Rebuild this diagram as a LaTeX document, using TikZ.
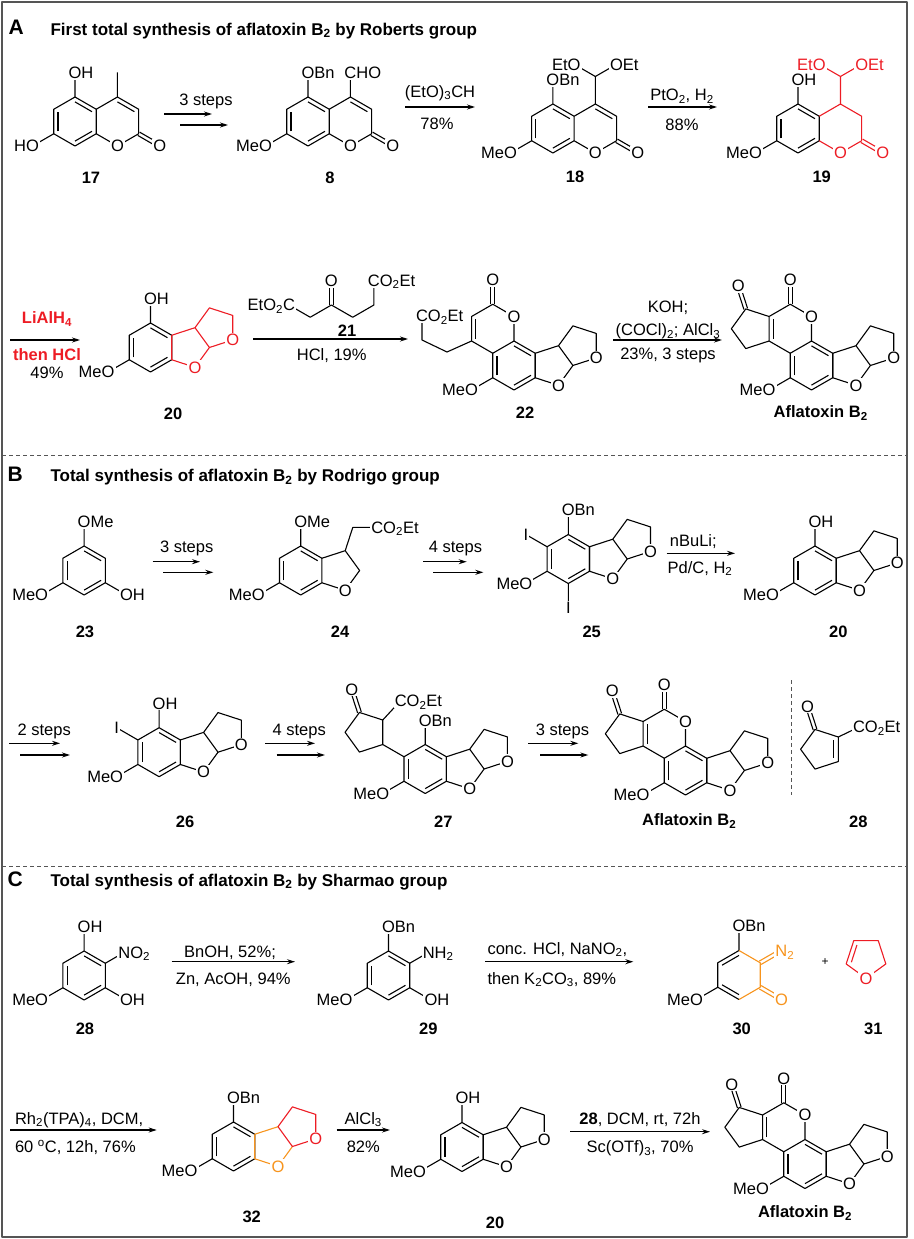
\documentclass[tikz,border=0pt]{standalone}
\usepackage{fontspec}
\setmainfont{Liberation Sans}
\usetikzlibrary{arrows,arrows.meta,positioning,calc}

\definecolor{chemred}{RGB}{237,28,36}
\definecolor{chemorange}{RGB}{247,148,29}
\definecolor{framegray}{RGB}{85,85,85}

\newcommand{\afont}{\fontsize{16.5}{19}\selectfont}
\newcommand{\tfont}{\fontsize{17}{20}\selectfont\bfseries}
\newcommand{\pfont}{\fontsize{21}{24}\selectfont\bfseries}

% ring corners, pointy top, bond 24.5
\newcommand{\hexpts}[3]{%
	\coordinate (#1c) at (#2,#3);
	\coordinate (#1v1) at ($(#1c)+(0,-24.5)$);
	\coordinate (#1v2) at ($(#1c)+(21.22,-12.25)$);
	\coordinate (#1v3) at ($(#1c)+(21.22,12.25)$);
	\coordinate (#1v4) at ($(#1c)+(0,24.5)$);
	\coordinate (#1v5) at ($(#1c)+(-21.22,12.25)$);
	\coordinate (#1v6) at ($(#1c)+(-21.22,-12.25)$);
}
% inner line of a ring double bond
\newcommand{\dbin}[4][]{\draw[#1] ($(#2)!0.2!(#4)$)--($(#3)!0.2!(#4)$);}
\newcommand{\dbinp}[4][]{\draw[#1] ($(#2)!0.26!(#4)$)--($(#3)!0.26!(#4)$);}
% centred double bond
\newcommand{\dbo}[3][]{\draw[#1] ($(#2)!1.9pt!90:(#3)$)--($(#3)!1.9pt!-90:(#2)$) ($(#2)!1.9pt!-90:(#3)$)--($(#3)!1.9pt!90:(#2)$);}
% benzene ring
\newcommand{\benz}[1]{%
	\draw (#1v1)--(#1v2)--(#1v3)--(#1v4)--(#1v5)--(#1v6)--cycle;
	\dbin{#1v1}{#1v2}{#1c}
	\dbin{#1v3}{#1v4}{#1c}
	\dbin{#1v5}{#1v6}{#1c}
}
% two five rings on the right edge of a benzene
\newcommand{\ffpts}[1]{%
	\coordinate (#1a) at ($(#1c)+(44.51,-19.82)$);
	\coordinate (#1d) at ($(#1c)+(58.91,0)$);
	\coordinate (#1o) at ($(#1c)+(44.51,19.82)$);
	\coordinate (#1s) at ($(#1c)+(58.91,-39.64)$);
	\coordinate (#1t) at ($(#1c)+(82.21,-32.07)$);
	\coordinate (#1p) at ($(#1c)+(82.21,-7.57)$);
}
\newcommand{\furofuran}[2]{%
	\ffpts{#1}
	\draw[#2] (#1v2)--(#1v3) (#1v2)--(#1a)--(#1d)--(#1o)--(#1v3) (#1a)--(#1s)--(#1t)--(#1p)--(#1d);
	\node[atm,text=#2] (#1oo) at (#1o) {O};
	\node[atm,text=#2] (#1po) at (#1p) {O};
}
% coumarin core
\newcommand{\coumarin}[4]{%
	\hexpts{#1a}{#2}{#3}
	\hexpts{#1b}{#2+42.44}{#3}
	\coordinate (#1o) at ($(#1bv3)+(21.22,12.25)$);
	\benz{#1a}
	\draw[#4] (#1av2)--(#1bv1)--(#1bv2)--(#1bv3)--(#1bv4)--(#1av3);
	\dbo[#4]{#1bv3}{#1o}
	\node[atm,text=#4] (#1ro) at (#1bv4) {O};
	\node[atm,text=#4] (#1ko) at (#1o) {O};
}
% phenol 20
\newcommand{\phenol}[4]{%
	\hexpts{#1}{#2}{#3}
	\coordinate (#1h) at ($(#1v1)+(0,-24.5)$);
	\coordinate (#1m) at ($(#1v5)+(-21.22,12.25)$);
	\benz{#1}
	\draw (#1v1)--(#1h) (#1v5)--(#1m);
	\furofuran{#1}{#4}
	\node[atm] (#1n1) at (#1h) {O\rlap{H}};
	\node[atm] (#1n2) at (#1m) {\llap{Me}O};
}
% aflatoxin B2
\newcommand{\aflatoxin}[3]{%
	\hexpts{#1}{#2}{#3}
	\hexpts{#1q}{#2-21.22}{#3-36.75}
	\coordinate (#1qo) at ($(#1qv1)+(0,-24.5)$);
	\coordinate (#1k1) at ($(#1qc)+(-44.52,-19.82)$);
	\coordinate (#1k2) at ($(#1qc)+(-58.92,0)$);
	\coordinate (#1k3) at ($(#1qc)+(-44.52,19.82)$);
	\coordinate (#1ko) at ($(#1k1)+(-7.57,-23.3)$);
	\coordinate (#1m) at ($(#1v5)+(-21.22,12.25)$);
	\benz{#1}
	\draw (#1qv4)--(#1qv5)--(#1qv6)--(#1qv1)--(#1qv2)--(#1qv3);
	\draw (#1qv6)--(#1k1)--(#1k2)--(#1k3)--(#1qv5) (#1v5)--(#1m);
	\dbin{#1qv5}{#1qv6}{#1qc}
	\dbo{#1qv1}{#1qo}
	\dbo{#1k1}{#1ko}
	\furofuran{#1}{black}
	\node[atm] (#1n1) at (#1qv2) {O};
	\node[atm] (#1n2) at (#1qo) {O};
	\node[atm] (#1n3) at (#1ko) {O};
	\node[atm] (#1n4) at (#1m) {\llap{Me}O};
}

\begin{document}
\begin{tikzpicture}[x=1pt,y=-1pt,line width=1.1pt,line join=round]
	\tikzstyle{atm}=[fill=white,inner sep=1.2pt,text height=11.8pt,text depth=0pt,font=\afont]
	\tikzstyle{txt}=[inner sep=0.5pt,text height=11.8pt,text depth=0pt,font=\afont]
	\tikzstyle{num}=[txt,font=\afont\bfseries]
	\tikzstyle{ttl}=[anchor=west,inner sep=0pt,text height=12.2pt,text depth=0pt,font=\tfont]
	\tikzstyle{pnl}=[anchor=west,inner sep=0pt,text height=15pt,text depth=0pt,font=\pfont]
	\tikzstyle{rxn}=[line width=1.1pt,-{Stealth[length=8pt,width=5pt]}]
	\tikzstyle{sep}=[line width=0.9pt,framegray,dash pattern=on 4pt off 3pt]

	\useasboundingbox (0,0) rectangle (913,1239);
	\draw[line width=1.6pt,framegray] (2,2) rectangle (907,1237);

	% ---------------- A
	\node[pnl] (pA) at (8,27.5) {A};
	\node[ttl] (tA) at (50,29) {First total synthesis of aflatoxin B\textsubscript{2} by Roberts group};

	% 17
	\coumarin{q}{75}{121.5}{black}
	\coordinate (q1) at ($(qav1)+(0,-24.5)$);
	\coordinate (q2) at ($(qav5)+(-21.22,12.25)$);
	\coordinate (q3) at ($(qbv1)+(0,-24.5)$);
	\draw (qav1)--(q1) (qav5)--(q2) (qbv1)--(q3);
	\dbin{qbv1}{qbv2}{qbc}
	\node[atm] (q1n) at (q1) {O\rlap{H}};
	\node[atm] (q2n) at (q2) {\llap{H}O};
	\node[num] (n17) at (91,178) {17};

	% 8
	\coumarin{e}{308}{121.5}{black}
	\coordinate (e1) at ($(eav1)+(0,-24.5)$);
	\coordinate (e2) at ($(eav5)+(-21.22,12.25)$);
	\coordinate (e3) at ($(ebv1)+(0,-24.5)$);
	\draw (eav1)--(e1) (eav5)--(e2) (ebv1)--(e3);
	\dbin{ebv1}{ebv2}{ebc}
	\node[atm] (e1n) at (e1) {O\rlap{Bn}};
	\node[atm] (e2n) at (e2) {\llap{Me}O};
	\node[atm] (e3n) at (e3) {C\rlap{HO}};
	\node[num] (n8) at (330,178) {8};

	% 18
	\coumarin{r}{552.9}{128.5}{black}
	\coordinate (r1) at ($(rav1)+(0,-24.5)$);
	\coordinate (r2) at ($(rav5)+(-21.22,12.25)$);
	\coordinate (r3) at ($(rbv1)+(0,-27.5)$);
	\coordinate (r4) at ($(r3)+(-21.22,-12.25)$);
	\coordinate (r5) at ($(r3)+(21.22,-12.25)$);
	\draw (rav1)--(r1) (rav5)--(r2) (rbv1)--(r3) (r4)--(r3)--(r5);
	\dbin{rbv1}{rbv2}{rbc}
	\node[atm] (r1n) at (r1) {O\rlap{Bn}};
	\node[atm] (r2n) at (r2) {\llap{Me}O};
	\node[atm] (r4n) at (r4) {\llap{Et}O};
	\node[atm] (r5n) at (r5) {O\rlap{Et}};
	\node[num] (n18) at (575,177) {18};

	% 19
	\coumarin{n}{798}{128.5}{chemred}
	\coordinate (n1) at ($(nav1)+(0,-24.5)$);
	\coordinate (n2) at ($(nav5)+(-21.22,12.25)$);
	\coordinate (n3) at ($(nbv1)+(0,-27.5)$);
	\coordinate (n4) at ($(n3)+(-21.22,-12.25)$);
	\coordinate (n5) at ($(n3)+(21.22,-12.25)$);
	\draw (nav1)--(n1) (nav5)--(n2);
	\draw[chemred] (nbv1)--(n3) (n4)--(n3)--(n5);
	\node[atm] (n1n) at (n1) {O\rlap{H}};
	\node[atm] (n2n) at (n2) {\llap{Me}O};
	\node[atm,text=chemred] (n4n) at (n4) {\llap{Et}O};
	\node[atm,text=chemred] (n5n) at (n5) {O\rlap{Et}};
	\node[num] (n19) at (821.7,177) {19};

	% arrows, row 1
	\coordinate (a1) at (164,114); \coordinate (a2) at (212,114);
	\coordinate (a3) at (180,125); \coordinate (a4) at (228,125);
	\draw[rxn] (a1)--(a2); \draw[rxn] (a3)--(a4);
	\node[txt] (a5) at (206,100) {3 steps};
	\coordinate (a6) at (405,107); \coordinate (a7) at (475,107);
	\draw[rxn] (a6)--(a7);
	\node[txt] (a8) at (440,91.5) {(EtO)\textsubscript{3}CH};
	\node[txt] (a9) at (437,124) {78\%};
	\coordinate (a10) at (648,107); \coordinate (a11) at (717,107);
	\draw[rxn] (a10)--(a11);
	\node[txt] (a12) at (682,95) {PtO\textsubscript{2}, H\textsubscript{2}};
	\node[txt] (a13) at (682,125) {88\%};

	% 20
	\coordinate (a14) at (10,340); \coordinate (a15) at (80,340);
	\draw[rxn] (a14)--(a15);
	\node[txt,font=\afont\bfseries,text=chemred] (a16) at (47,318) {LiAlH\textsubscript{4}};
	\node[txt,font=\afont\bfseries,text=chemred] (a17) at (47,355) {then HCl};
	\node[txt] (a18) at (47,373) {49\%};
	\phenol{ta}{150.5}{347.5}{chemred}
	\node[num] (n20a) at (173,414) {20};

	% 21
	\coordinate (m0) at (289,305);
	\coordinate (m1) at (310.2,317.25);
	\coordinate (m2) at (331.4,305);
	\coordinate (m3) at (352.7,317.25);
	\coordinate (m4) at (373.9,305);
	\coordinate (m5) at (373.9,280.5);
	\coordinate (m6) at (331.4,280.5);
	\draw (m0)--(m1)--(m2)--(m3)--(m4)--(m5);
	\dbo{m2}{m6}
	\node[atm] (m0n) at (m0) {\llap{EtO\textsubscript{2}}C};
	\node[atm] (m5n) at (m5) {C\rlap{O\textsubscript{2}Et}};
	\node[atm] (m6n) at (m6) {O};
	\node[num] (n21) at (347,331) {21};
	\coordinate (a19) at (253,339); \coordinate (a20) at (408,339);
	\draw[rxn] (a19)--(a20);
	\node[txt] (a21) at (331.7,354.5) {HCl, 19\%};

	% 22
	\hexpts{w}{514}{365.5}
	\hexpts{wq}{492.78}{328.75}
	\coordinate (wqo) at ($(wqv1)+(0,-24.5)$);
	\coordinate (wm) at ($(wv5)+(-21.22,12.25)$);
	\coordinate (w1) at (447,352);
	\coordinate (w2) at (422,340);
	\coordinate (w3) at (422,316);
	\benz{w}
	\draw (wqv4)--(wqv5)--(wqv6)--(wqv1)--(wqv2)--(wqv3);
	\draw (wqv5)--(w1)--(w2)--(w3) (wv5)--(wm);
	\dbin{wqv5}{wqv6}{wqc}
	\dbo{wqv1}{wqo}
	\furofuran{w}{black}
	\node[atm] (wn1) at (wqv2) {O};
	\node[atm] (wn2) at (wqo) {O};
	\node[atm] (wn3) at (wm) {\llap{Me}O};
	\node[atm] (wn4) at (w3) {C\rlap{O\textsubscript{2}Et}};
	\node[num] (n22) at (525,413) {22};

	\coordinate (a22) at (613,340); \coordinate (a23) at (722,340);
	\draw[rxn] (a22)--(a23);
	\node[txt] (a24) at (668,306.7) {KOH;};
	\node[txt] (a25) at (668,330) {(COCl)\textsubscript{2}; AlCl\textsubscript{3}};
	\node[txt] (a26) at (668,353.3) {23\%, 3 steps};

	\aflatoxin{fa}{811.5}{365.5}
	\node[num] (nfa) at (820.7,411.7) {Aflatoxin B\textsubscript{2}};

	\coordinate (s1) at (2,455); \coordinate (s2) at (907,455);
	\draw[sep] (s1)--(s2);

	% ---------------- B
	\node[pnl] (pB) at (7,474) {B};
	\node[ttl] (tB) at (50,475.8) {Total synthesis of aflatoxin B\textsubscript{2} by Rodrigo group};

	% 23
	\hexpts{u}{84.1}{570.5}
	\coordinate (u1) at ($(uv1)+(0,-24.5)$);
	\coordinate (u2) at ($(uv5)+(-21.22,12.25)$);
	\coordinate (u3) at ($(uv3)+(21.22,12.25)$);
	\benz{u}
	\draw (uv1)--(u1) (uv5)--(u2) (uv3)--(u3);
	\node[atm] (u1n) at (u1) {O\rlap{Me}};
	\node[atm] (u2n) at (u2) {\llap{Me}O};
	\node[atm] (u3n) at (u3) {O\rlap{H}};
	\node[num] (n23) at (85,631.7) {23};

	% 24
	\hexpts{y}{300.7}{570.5}
	\ffpts{y}
	\coordinate (y1) at ($(ya)+(7.57,-23.3)$);
	\coordinate (y2) at ($(y1)+(24.5,0)$);
	\coordinate (y3) at ($(yv1)+(0,-24.5)$);
	\coordinate (y4) at ($(yv5)+(-21.22,12.25)$);
	\benz{y}
	\draw (yv2)--(ya)--(yd)--(yo)--(yv3) (ya)--(y1)--(y2) (yv1)--(y3) (yv5)--(y4);
	\node[atm] (y0n) at (yo) {O};
	\node[atm] (y2n) at (y2) {C\rlap{O\textsubscript{2}Et}};
	\node[atm] (y3n) at (y3) {O\rlap{Me}};
	\node[atm] (y4n) at (y4) {\llap{Me}O};
	\node[num] (n24) at (340,631.7) {24};

	% 25
	\hexpts{x}{568.3}{559}
	\coordinate (x1) at ($(xv1)+(0,-24.5)$);
	\coordinate (x2) at ($(xv6)+(-21.22,-12.25)$);
	\coordinate (x3) at ($(xv5)+(-21.22,12.25)$);
	\coordinate (x4) at ($(xv4)+(0,24.5)$);
	\benz{x}
	\draw (xv1)--(x1) (xv6)--(x2) (xv5)--(x3) (xv4)--(x4);
	\furofuran{x}{black}
	\node[atm] (x1n) at (x1) {O\rlap{Bn}};
	\node[atm] (x2n) at (x2) {I};
	\node[atm] (x3n) at (x3) {\llap{Me}O};
	\node[atm] (x4n) at (x4) {I};
	\node[num] (n25) at (591.7,631.7) {25};

	% 20
	\phenol{tb}{815}{570.5}{black}
	\node[num] (n20b) at (838.3,631.7) {20};

	% arrows, row 3
	\coordinate (b1) at (152.7,561.7); \coordinate (b2) at (200,561.7);
	\coordinate (b3) at (163.3,572.3); \coordinate (b4) at (213.3,572.3);
	\draw[rxn] (b1)--(b2); \draw[rxn] (b3)--(b4);
	\node[txt] (b5) at (186.7,546.7) {3 steps};
	\coordinate (b6) at (423.3,561.7); \coordinate (b7) at (466.7,561.7);
	\coordinate (b8) at (433.3,572.3); \coordinate (b9) at (483.3,572.3);
	\draw[rxn] (b6)--(b7); \draw[rxn] (b8)--(b9);
	\node[txt] (b10) at (455.5,546.7) {4 steps};
	\coordinate (b11) at (666.7,553.3); \coordinate (b12) at (735,553.3);
	\draw[rxn] (b11)--(b12);
	\node[txt] (b13) at (693.3,541) {nBuLi;};
	\node[txt] (b14) at (700,567.5) {Pd/C, H\textsubscript{2}};

	% 26
	\coordinate (b15) at (9.3,743.3); \coordinate (b16) at (60,743.3);
	\coordinate (b17) at (20,755); \coordinate (b18) at (70,755);
	\draw[rxn] (b15)--(b16); \draw[rxn] (b17)--(b18);
	\node[txt] (b19) at (44.2,730) {2 steps};
	\phenol{ii}{159.1}{752.2}{black}
	\coordinate (ii1) at ($(iiv6)+(-21.22,-12.25)$);
	\draw (iiv6)--(ii1);
	\node[atm] (ii1n) at (ii1) {I};
	\node[num] (n26) at (185,821.7) {26};

	% 27
	\coordinate (b20) at (265,743.3); \coordinate (b21) at (315,743.3);
	\coordinate (b22) at (276.7,755); \coordinate (b23) at (325,755);
	\draw[rxn] (b20)--(b21); \draw[rxn] (b22)--(b23);
	\node[txt] (b24) at (299.2,730) {4 steps};
	\hexpts{pp}{425.2}{769}
	\coordinate (pp1) at ($(ppv6)+(-21.22,-12.25)$);
	\coordinate (pp2) at ($(pp1)+(0,-24.5)$);
	\coordinate (ppk) at ($(pp1)+(-16.86,-12.25)$);
	\coordinate (pp3) at ($(ppk)+(-6.44,-19.82)$);
	\coordinate (pp4) at ($(ppk)+(-20.84,0)$);
	\coordinate (pp5) at ($(ppk)+(-6.44,19.82)$);
	\coordinate (pp6) at ($(pp3)+(-7.57,-23.3)$);
	\coordinate (pp7) at ($(pp2)+(18,-19.5)$);
	\coordinate (pp8) at ($(ppv1)+(0,-24)$);
	\coordinate (pp9) at ($(ppv5)+(-21.22,12.25)$);
	\benz{pp}
	\draw (ppv6)--(pp1)--(pp2)--(pp3)--(pp4)--(pp5)--(pp1) (pp2)--(pp7) (ppv1)--(pp8) (ppv5)--(pp9);
	\dbo{pp3}{pp6}
	\furofuran{pp}{black}
	\node[atm] (pp6n) at (pp6) {O};
	\node[atm] (pp8n) at (pp8) {O\rlap{Bn}};
	\node[atm] (pp7n) at (pp7) {C\rlap{O\textsubscript{2}Et}};
	\node[atm] (pp9n) at (pp9) {\llap{Me}O};
	\node[num] (n27) at (443.3,821.7) {27};

	% aflatoxin
	\coordinate (b25) at (528.3,743.3); \coordinate (b26) at (578.3,743.3);
	\coordinate (b27) at (540,755); \coordinate (b28) at (588.3,755);
	\draw[rxn] (b25)--(b26); \draw[rxn] (b27)--(b28);
	\node[txt] (b29) at (562.5,730) {3 steps};
	\aflatoxin{fb}{685.5}{770.5}
	\node[num] (nfb) at (689.2,820) {Aflatoxin B\textsubscript{2}};

	\coordinate (b30) at (791.7,680); \coordinate (b31) at (791.7,795);
	\draw[sep,line width=1pt] (b30)--(b31);

	% 28
	\coordinate (cp0) at (821.44,749.25);
	\coordinate (cpa) at (838.3,737);
	\coordinate (cpb) at (838.3,761.5);
	\coordinate (cp1) at (815,729.43);
	\coordinate (cp2) at (800.6,749.25);
	\coordinate (cp3) at (815,769.07);
	\coordinate (cpo) at (807.43,706.13);
	\coordinate (cpe) at (859,727);
	\draw (cpa)--(cp1)--(cp2)--(cp3)--(cpb)--cycle (cpa)--(cpe);
	\dbinp{cpa}{cpb}{cp0}
	\dbo{cp1}{cpo}
	\node[atm] (cpon) at (cpo) {O};
	\node[atm] (cpen) at (cpe) {C\rlap{O\textsubscript{2}Et}};
	\node[num] (n28b) at (858.3,821.7) {28};

	\coordinate (s3) at (2,866); \coordinate (s4) at (907,866);
	\draw[sep] (s3)--(s4);

	% ---------------- C
	\node[pnl] (pC) at (7,878.5) {C};
	\node[ttl] (tC) at (50,880) {Total synthesis of aflatoxin B\textsubscript{2} by Sharmao group};

	% 28
	\hexpts{g}{84.1}{975.5}
	\coordinate (g1) at ($(gv1)+(0,-24.5)$);
	\coordinate (g2) at ($(gv2)+(19,-11)$);
	\coordinate (g3) at ($(gv3)+(21.22,12.25)$);
	\coordinate (g4) at ($(gv5)+(-21.22,12.25)$);
	\benz{g}
	\draw (gv1)--(g1) (gv2)--(g2) (gv3)--(g3) (gv5)--(g4);
	\node[atm] (g1n) at (g1) {O\rlap{H}};
	\node[atm] (g2n) at (g2) {N\rlap{O\textsubscript{2}}};
	\node[atm] (g3n) at (g3) {O\rlap{H}};
	\node[atm] (g4n) at (g4) {\llap{Me}O};
	\node[num] (n28c) at (85,1028.3) {28};

	\coordinate (c1) at (171.7,961.7); \coordinate (c2) at (295,961.7);
	\draw[rxn] (c1)--(c2);
	\node[txt] (c3) at (230,951.5) {BnOH, 52\%;};
	\node[txt] (c4) at (233.3,978.3) {Zn, AcOH, 94\%};

	% 29
	\hexpts{h}{388.5}{975.5}
	\coordinate (h1) at ($(hv1)+(0,-24.5)$);
	\coordinate (h2) at ($(hv2)+(19,-11)$);
	\coordinate (h3) at ($(hv3)+(21.22,12.25)$);
	\coordinate (h4) at ($(hv5)+(-21.22,12.25)$);
	\benz{h}
	\draw (hv1)--(h1) (hv2)--(h2) (hv3)--(h3) (hv5)--(h4);
	\node[atm] (h1n) at (h1) {O\rlap{Bn}};
	\node[atm] (h2n) at (h2) {N\rlap{H\textsubscript{2}}};
	\node[atm] (h3n) at (h3) {O\rlap{H}};
	\node[atm] (h4n) at (h4) {\llap{Me}O};
	\node[num] (n29) at (428.3,1028.3) {29};

	\coordinate (c5) at (485,961.7); \coordinate (c6) at (633.3,961.7);
	\draw[rxn] (c5)--(c6);
	\node[txt,anchor=west] (c7) at (486.5,948.3) {conc. HCl, NaNO\textsubscript{2},};
	\node[txt,anchor=west] (c8) at (486.5,978.3) {then K\textsubscript{2}CO\textsubscript{3}, 89\%};

	% 30
	\hexpts{dz}{739}{975}
	\coordinate (dz1) at ($(dzv1)+(0,-24.5)$);
	\coordinate (dz2) at ($(dzv2)+(21.22,-12.25)$);
	\coordinate (dz3) at ($(dzv3)+(21.22,12.25)$);
	\coordinate (dz4) at ($(dzv5)+(-21.22,12.25)$);
	\draw (dzv4)--(dzv5)--(dzv6)--(dzv1) (dzv1)--(dz1) (dzv5)--(dz4);
	\draw[chemorange] (dzv1)--(dzv2)--(dzv3)--(dzv4);
	\dbin{dzv6}{dzv1}{dzc}
	\dbin{dzv4}{dzv5}{dzc}
	\dbo[chemorange]{dzv2}{dz2}
	\dbo[chemorange]{dzv3}{dz3}
	\node[atm] (dz1n) at (dz1) {O\rlap{Bn}};
	\node[atm,text=chemorange] (dz2n) at (dz2) {N\rlap{\textsubscript{2}}};
	\node[atm,text=chemorange] (dz3n) at (dz3) {O};
	\node[atm] (dz4n) at (dz4) {\llap{Me}O};
	\node[num] (n30) at (741.7,1028.3) {30};

	\node[txt,font=\fontsize{12}{14}\selectfont,text height=8pt] (plus) at (825,961.7) {+};

	% 31
	\coordinate (df0) at (866,957.5);
	\coordinate (dfo) at (866,978.34);
	\coordinate (df1) at (846.18,963.94);
	\coordinate (df2) at (853.75,940.64);
	\coordinate (df3) at (878.25,940.64);
	\coordinate (df4) at (885.82,963.94);
	\draw[chemred] (dfo)--(df1)--(df2)--(df3)--(df4)--cycle;
	\dbinp[chemred]{df1}{df2}{df0}
	\node[atm,text=chemred] (dfn) at (dfo) {O};
	\node[num] (n31) at (873.3,1028.3) {31};

	% 32
	\coordinate (c9) at (10,1130); \coordinate (c10) at (156.7,1130);
	\draw[rxn] (c9)--(c10);
	\node[txt,anchor=west] (c11) at (14,1118.3) {Rh\textsubscript{2}(TPA)\textsubscript{4}, DCM,};
	\node[txt,anchor=west] (c12) at (14,1146.7) {60 \textsuperscript{o}C, 12h, 76\%};
	\hexpts{bb}{233.5}{1146.5}
	\ffpts{bb}
	\coordinate (bb1) at ($(bbv1)+(0,-24.5)$);
	\coordinate (bb2) at ($(bbv5)+(-21.22,12.25)$);
	\benz{bb}
	\draw (bbv1)--(bb1) (bbv5)--(bb2);
	\draw[chemorange] (bbv2)--(bbv3) (bbv2)--(bba) (bbv3)--(bbo)--(bbd);
	\draw[chemred] (bba)--(bbd)--(bbp)--(bbt)--(bbs)--(bba);
	\node[atm,text=chemorange] (bbon) at (bbo) {O};
	\node[atm,text=chemred] (bbpn) at (bbp) {O};
	\node[atm] (bb1n) at (bb1) {O\rlap{Bn}};
	\node[atm] (bb2n) at (bb2) {\llap{Me}O};
	\node[num] (n32) at (251.7,1216.7) {32};

	% 20
	\coordinate (c13) at (336.7,1130); \coordinate (c14) at (390,1130);
	\draw[rxn] (c13)--(c14);
	\node[txt] (c15) at (363.3,1118.3) {AlCl\textsubscript{3}};
	\node[txt] (c16) at (363.3,1146.7) {82\%};
	\phenol{tc}{462}{1147}{black}
	\node[num] (n20c) at (495,1223) {20};

	% aflatoxin
	\coordinate (c17) at (570,1131.7); \coordinate (c18) at (710,1131.7);
	\draw[rxn] (c17)--(c18);
	\node[txt] (c19) at (640,1118.3) {\textbf{28}, DCM, rt, 72h};
	\node[txt] (c20) at (640,1146.7) {Sc(OTf)\textsubscript{3}, 70\%};
	\aflatoxin{fc}{805}{1164}
	\node[num] (nfc) at (805,1211.7) {Aflatoxin B\textsubscript{2}};
\end{tikzpicture}
\end{document}
